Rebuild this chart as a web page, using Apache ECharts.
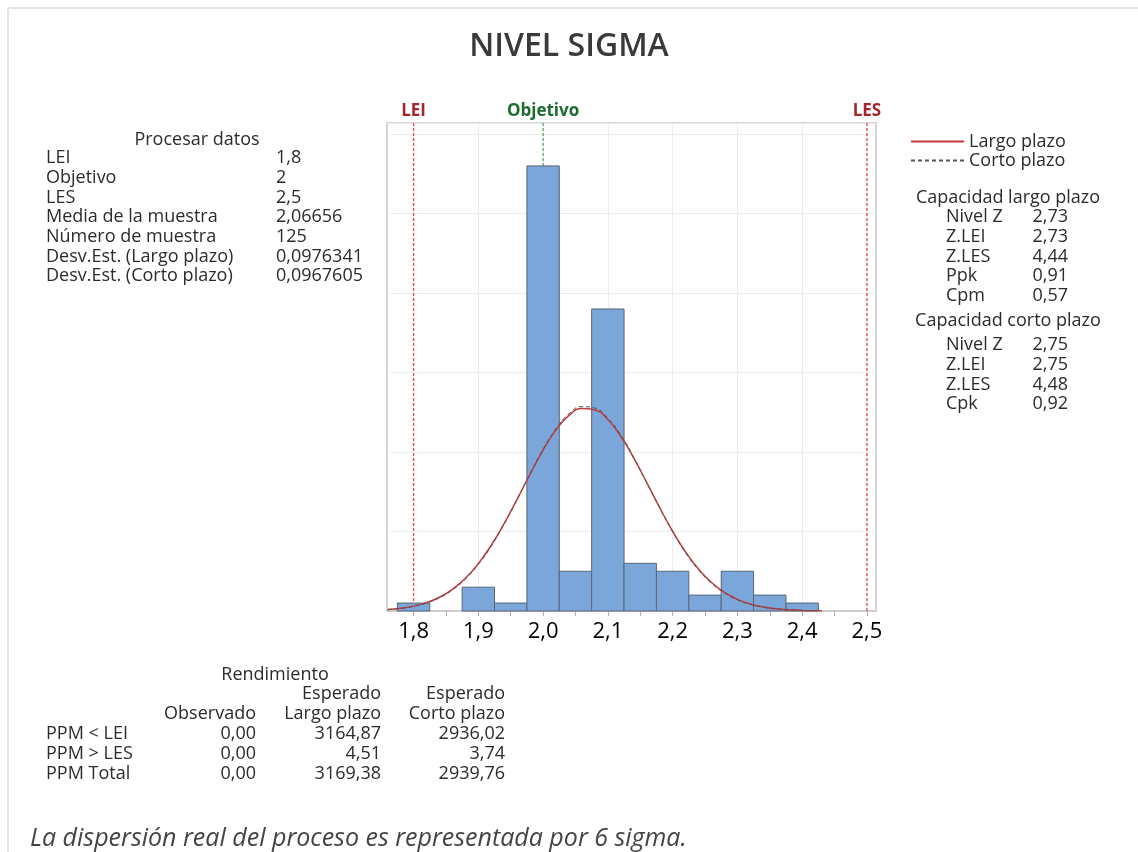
<!DOCTYPE html>
<html><head><meta charset="utf-8">
<script src="https://cdn.jsdelivr.net/npm/echarts@6/dist/echarts.min.js"></script>
<style>html,body{margin:0;padding:0;background:#fff}#c{width:1138px;height:852px}</style>
</head><body><div id="c"></div>
<script>
// ---- data ----
const binCenters = [1.80,1.85,1.90,1.95,2.00,2.05,2.10,2.15,2.20,2.25,2.30,2.35,2.40];
const binWidth = 0.05;
const counts = [1,0,3,1,56,5,38,6,5,2,5,2,1];

const curveX = [1.76,1.78,1.80,1.82,1.84,1.86,1.88,1.90,1.92,1.94,1.96,1.98,2.00,2.02,2.04,2.06,2.08,2.10,2.12,2.14,2.16,2.18,2.20,2.22,2.24,2.26,2.28,2.30,2.32,2.34,2.36,2.38,2.40,2.42,2.43];
const longTerm = [0.185,0.344,0.615,1.053,1.730,2.724,4.114,5.959,8.277,11.024,14.079,17.240,20.244,22.795,24.612,25.482,25.299,24.085,21.987,19.246,16.155,13.004,10.037,7.428,5.273,3.588,2.341,1.465,0.879,0.506,0.279,0.148,0.075,0.036,0.024];
const shortTerm = [0.170,0.321,0.580,1.003,1.662,2.640,4.017,5.857,8.184,10.955,14.052,17.272,20.340,22.952,24.816,25.711,25.522,24.276,22.125,19.321,16.166,12.962,9.957,7.329,5.170,3.493,2.262,1.403,0.835,0.475,0.260,0.136,0.068,0.033,0.022];

const xTickValues = [1.80,1.85,1.90,1.95,2.00,2.05,2.10,2.15,2.20,2.25,2.30,2.35,2.40,2.45,2.50];
const xLabelValues = [1.8,1.9,2.0,2.1,2.2,2.3,2.4,2.5];
const xMin = 1.759, xMax = 2.514;
const yMin = 0, yMax = 61.4, yStep = 10;
const specNames = ['LEI','Objetivo','LES'];
const specValues = [1.8,2.0,2.5];

const processTitle = 'Procesar datos';
const processLabels = ['LEI','Objetivo','LES','Media de la muestra','Número de muestra','Desv.Est. (Largo plazo)','Desv.Est. (Corto plazo)'];
const processValues = ['1,8','2','2,5','2,06656','125','0,0976341','0,0967605'];

const longCapTitle = 'Capacidad largo plazo';
const longCapLabels = ['Nivel Z','Z.LEI','Z.LES','Ppk','Cpm'];
const longCapValues = ['2,73','2,73','4,44','0,91','0,57'];
const shortCapTitle = 'Capacidad corto plazo';
const shortCapLabels = ['Nivel Z','Z.LEI','Z.LES','Cpk'];
const shortCapValues = ['2,75','2,75','4,48','0,92'];

const yieldTitle = 'Rendimiento';
const yieldHeaders1 = ['', 'Esperado', 'Esperado'];
const yieldHeaders2 = ['Observado', 'Largo plazo', 'Corto plazo'];
const yieldRows = ['PPM < LEI','PPM > LES','PPM Total'];
const yieldObserved = ['0,00','0,00','0,00'];
const yieldLong = ['3164,87','4,51','3169,38'];
const yieldShort = ['2936,02','3,74','2939,76'];

const footerText = 'La dispersión real del proceso es representada por 6 sigma.';

// ---- chart ----
const FONT = "'Open Sans', 'Noto Sans', sans-serif";
const TXT = '#2b2b2b';
const FS = 18;

function txt(x, y, text, align, extra) {
  return { type: 'text', x: x, y: y, silent: true,
    style: Object.assign({ text: text, fill: TXT, font: FS + 'px ' + FONT, textAlign: align || 'left', textVerticalAlign: 'middle' }, extra || {}) };
}

const graphics = [];
graphics.push({ type: 'line', shape: { x1: 8, y1: 8, x2: 1138, y2: 8 }, style: { stroke: '#e4e4e4', lineWidth: 2 }, silent: true });
graphics.push({ type: 'line', shape: { x1: 8, y1: 8, x2: 8, y2: 852 }, style: { stroke: '#e4e4e4', lineWidth: 2 }, silent: true });

const rowH = 19.7;
graphics.push(txt(197, 140, processTitle, 'center'));
processLabels.forEach((l, i) => {
  graphics.push(txt(46, 158 + i * rowH, l, 'left'));
  graphics.push(txt(276, 158 + i * rowH, processValues[i], 'left'));
});
graphics.push(txt(1008, 198, longCapTitle, 'center'));
longCapLabels.forEach((l, i) => {
  graphics.push(txt(946, 217 + i * rowH, l, 'left'));
  graphics.push(txt(1068, 217 + i * rowH, longCapValues[i], 'right'));
});
graphics.push(txt(1008, 321, shortCapTitle, 'center'));
shortCapLabels.forEach((l, i) => {
  graphics.push(txt(946, 345 + i * rowH, l, 'left'));
  graphics.push(txt(1068, 345 + i * rowH, shortCapValues[i], 'right'));
});
const colR = [256, 381, 505];
graphics.push(txt(275, 675, yieldTitle, 'center'));
yieldHeaders1.forEach((h, j) => { if (h) graphics.push(txt(colR[j], 694, h, 'right')); });
yieldHeaders2.forEach((h, j) => graphics.push(txt(colR[j], 714, h, 'right')));
yieldRows.forEach((r, i) => {
  const y = 734 + i * rowH;
  graphics.push(txt(46, y, r, 'left'));
  graphics.push(txt(colR[0], y, yieldObserved[i], 'right'));
  graphics.push(txt(colR[1], y, yieldLong[i], 'right'));
  graphics.push(txt(colR[2], y, yieldShort[i], 'right'));
});
graphics.push(txt(30, 839, footerText, 'left', { font: 'italic 25px ' + FONT, fill: '#444444' }));

const specColors = { LEI: ['#a3262a', '#e5484d'], Objetivo: ['#1d6b2f', '#5aa86a'], LES: ['#a3262a', '#e5484d'] };
const fmt = v => Number(v).toFixed(1).replace('.', ',');

const specSeries = specNames.map((n, i) => ({
  name: 'spec-' + n, type: 'line', z: 1, symbol: 'none', silent: true,
  color: specColors[n][1],
  data: [[specValues[i], yMin], [specValues[i], yMax]],
  lineStyle: { color: specColors[n][1], type: [3, 2], width: 1.3 },
  itemStyle: { color: specColors[n][1] },
  markPoint: { silent: true, symbol: 'circle', symbolSize: 0, animation: false,
    data: [{ coord: [specValues[i], yMax] }],
    label: { show: true, position: 'top', formatter: n, distance: 3,
      color: specColors[n][0], fontFamily: FONT, fontSize: 17, fontWeight: 'bold' } }
}));

const option = {
  animation: false,
  backgroundColor: '#ffffff',
  title: { text: 'NIVEL SIGMA', left: 'center', top: 26,
    textStyle: { fontFamily: FONT, fontSize: 32, fontWeight: 600, color: '#3a3a3a' } },
  legend: { orient: 'vertical', left: 905, top: 127, itemWidth: 53, itemHeight: 10, itemGap: 0,
    data: ['Largo plazo', 'Corto plazo'],
    itemStyle: { opacity: 0 },
    textStyle: { fontFamily: FONT, fontSize: 18, color: TXT, lineHeight: 19 } },
  grid: { left: 387, top: 123, right: 262, bottom: 241, show: true, borderColor: '#c6c6c6', borderWidth: 1.5, backgroundColor: 'transparent' },
  xAxis: [
    { type: 'value', min: xMin, max: xMax, position: 'bottom',
      axisLine: { show: true, onZero: false, lineStyle: { color: '#c6c6c6', width: 1.5 } },
      axisTick: { show: true, inside: false, length: 5, customValues: xTickValues, lineStyle: { color: '#b0b0b0' } },
      axisLabel: { customValues: xLabelValues, formatter: fmt, fontFamily: FONT, fontSize: 22, color: '#000', margin: 10 },
      splitLine: { show: false } },
    { type: 'value', min: xMin, max: xMax, position: 'bottom',
      axisLine: { show: false }, axisLabel: { show: false },
      axisTick: { show: false, customValues: xLabelValues },
      splitLine: { show: true, lineStyle: { color: '#ececec', width: 1 } } }
  ],
  yAxis: { type: 'value', min: yMin, max: yMax, interval: yStep,
    axisLine: { show: false }, axisTick: { show: false }, axisLabel: { show: false },
    splitLine: { show: true, lineStyle: { color: '#ececec', width: 1 } } },
  graphic: graphics,
  series: [
    { name: 'hist', type: 'custom', z: 3,
      data: binCenters.map((c, i) => [c, counts[i]]),
      encode: { x: 0, y: 1 },
      renderItem: function (params, api) {
        const c = api.value(0), n = api.value(1);
        if (!n) return null;
        const p0 = api.coord([c - binWidth / 2, n]);
        const p1 = api.coord([c + binWidth / 2, 0]);
        return { type: 'rect', shape: { x: p0[0], y: p0[1], width: p1[0] - p0[0], height: p1[1] - p0[1] },
          style: { fill: '#7ba6d9', stroke: '#5a6478', lineWidth: 1 } };
      } },
    { name: 'Largo plazo', type: 'line', smooth: true, symbol: 'none', z: 4,
      color: '#c23b3b',
      data: curveX.map((x, i) => [x, longTerm[i]]),
      itemStyle: { color: '#c23b3b' },
      lineStyle: { color: '#c23b3b', width: 1.5 } },
    { name: 'Corto plazo', type: 'line', smooth: true, symbol: 'none', z: 5,
      color: '#555555',
      data: curveX.map((x, i) => [x, shortTerm[i]]),
      itemStyle: { color: '#555555' },
      lineStyle: { color: '#555555', width: 1, type: [4, 3] } }
  ].concat(specSeries)
};

const chart = echarts.init(document.getElementById('c'), null, { renderer: 'canvas' });
chart.setOption(option);
</script>
</body></html>
